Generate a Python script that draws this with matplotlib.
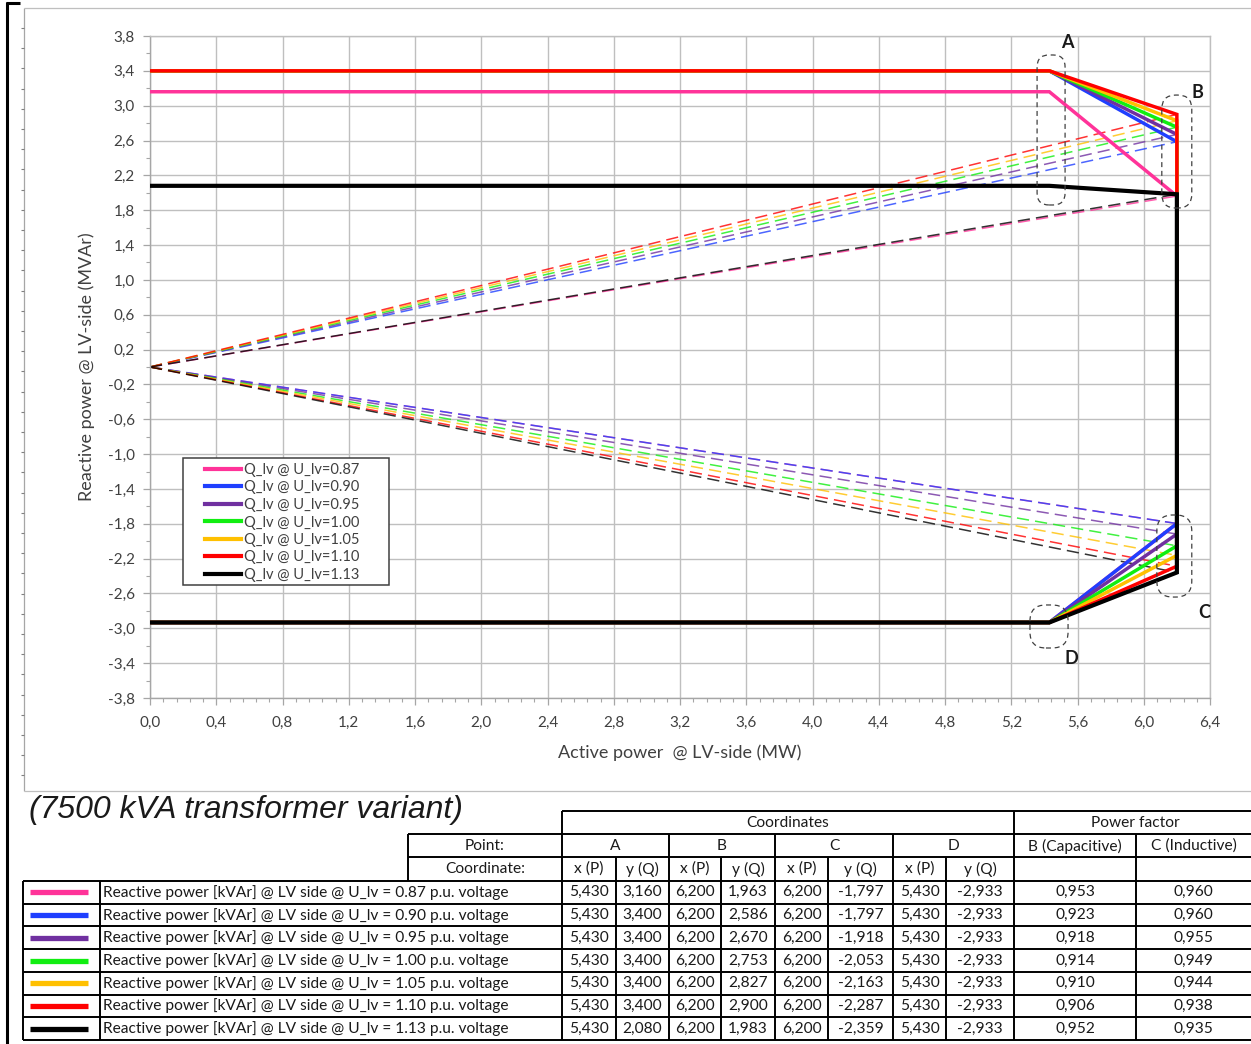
import numpy as np
import matplotlib
matplotlib.use("Agg")
import matplotlib.pyplot as plt
from matplotlib.patches import FancyBboxPatch, Rectangle
from matplotlib.ticker import FixedLocator, FuncFormatter

# ---------------- data ----------------
voltages = ["0.87", "0.90", "0.95", "1.00", "1.05", "1.10", "1.13"]
colors = ["#FF3399", "#1F3FFF", "#7030A0", "#11EE11", "#FFC000", "#FF0000", "#000000"]
A_x = [5.430, 5.430, 5.430, 5.430, 5.430, 5.430, 5.430]
A_y = [3.160, 3.400, 3.400, 3.400, 3.400, 3.400, 2.080]
B_x = [6.200, 6.200, 6.200, 6.200, 6.200, 6.200, 6.200]
B_y = [1.963, 2.586, 2.670, 2.753, 2.827, 2.900, 1.983]
C_x = [6.200, 6.200, 6.200, 6.200, 6.200, 6.200, 6.200]
C_y = [-1.797, -1.797, -1.918, -2.053, -2.163, -2.287, -2.359]
D_x = [5.430, 5.430, 5.430, 5.430, 5.430, 5.430, 5.430]
D_y = [-2.933, -2.933, -2.933, -2.933, -2.933, -2.933, -2.933]
pf_B = [0.953, 0.923, 0.918, 0.914, 0.910, 0.906, 0.952]
pf_C = [0.960, 0.960, 0.955, 0.949, 0.944, 0.938, 0.935]
origin = (0.0, 0.0)

x_ticks = np.round(np.arange(0.0, 6.41, 0.4), 2)
y_ticks = np.round(np.arange(-3.8, 3.81, 0.4), 2)

W, H = 1251, 1044
CAL = ["Lato", "DejaVu Sans"]
TXT = "#404040"

fig = plt.figure(figsize=(W / 100, H / 100), dpi=100)

# ---------------- overlay (page frame + table) ----------------
ov = fig.add_axes([0, 0, 1, 1])
ov.set_xlim(0, W)
ov.set_ylim(H, 0)
ov.axis("off")

def hl(y, x0, x1, **kw):
    ov.plot([x0, x1], [y, y], solid_capstyle="butt", **kw)

def vl(x, y0, y1, **kw):
    ov.plot([x, x], [y0, y1], solid_capstyle="butt", **kw)

# page frame
vl(6.5, 2, H, color="black", lw=2.2)
hl(3, 5.5, 20, color="black", lw=2.2)
vl(23.5, 8, 791, color="#A6A6A6", lw=0.9)
hl(8, 23.5, W, color="#BFBFBF", lw=0.9)
hl(791, 23.5, W, color="#BFBFBF", lw=0.9)
for yy in np.arange(28, 790, 20.2):
    hl(yy, 21, 23.5, color="#808080", lw=0.8)

# title of table
ov.text(29, 810, "(7500 kVA transformer variant)", fontsize=23, style="italic",
        family=["Liberation Sans", "DejaVu Sans"], color="#1A1A1A", va="center", ha="left")

# table geometry
n = len(voltages)
row_h = (1040 - 881) / n
rows = [881 + i * row_h for i in range(n + 1)]
cx = [562, 616, 669, 721, 775, 828, 893, 946, 1014]
TL = dict(color="black", lw=1.4)

hl(811, 562, W, **TL)
hl(834, 408, W, **TL)
hl(857, 408, W, **TL)
for yy in rows:
    hl(yy, 23, W, **TL)
vl(23, 881, 1040, **TL)
vl(100, 881, 1040, **TL)
vl(408, 834, 881, **TL)
vl(562, 811, 1040, **TL)
for x in [669, 775, 893]:
    vl(x, 834, 1040, **TL)
for x in [616, 721, 828, 946]:
    vl(x, 857, 1040, **TL)
vl(1014, 811, 1040, **TL)
vl(1136, 834, 1040, **TL)

tf = dict(fontsize=11.2, family=CAL, color="#1A1A1A", va="center")
ov.text((562 + 1014) / 2, 823, "Coordinates", ha="center", **tf)
ov.text(1135, 823, "Power factor", ha="center", **tf)
ov.text(485, 846, "Point:", ha="center", **tf)
for i, lab in enumerate(["A", "B", "C", "D"]):
    ov.text((cx[2 * i] + cx[2 * i + 2]) / 2, 846, lab, ha="center", **tf)
ov.text(1075, 846, "B (Capacitive)", ha="center", **tf)
ov.text(1193.5, 846, "C (Inductive)", ha="center", **tf)
ov.text(485, 869, "Coordinate:", ha="center", **tf)
for i in range(8):
    ov.text((cx[i] + cx[i + 1]) / 2, 869, "x (P)" if i % 2 == 0 else "y (Q)", ha="center", **tf)

def fmt3(v):
    return f"{v:.3f}".replace(".", ",")

for i in range(n):
    yc = (rows[i] + rows[i + 1]) / 2
    hl(yc, 30, 88, color=colors[i], lw=3.8)
    ov.text(103, yc, f"Reactive power [kVAr] @ LV side @ U_lv = {voltages[i]} p.u. voltage",
            ha="left", **tf)
    vals = [A_x[i], A_y[i], B_x[i], B_y[i], C_x[i], C_y[i], D_x[i], D_y[i]]
    for j, v in enumerate(vals):
        ov.text((cx[j] + cx[j + 1]) / 2, yc, fmt3(v), ha="center", **tf)
    ov.text(1075, yc, fmt3(pf_B[i]), ha="center", **tf)
    ov.text(1193.5, yc, fmt3(pf_C[i]), ha="center", **tf)

# ---------------- chart ----------------
ax = fig.add_axes([150 / W, 1 - 698 / H, 1060 / W, 662 / H])
ax.set_xlim(0, 6.4)
ax.set_ylim(-3.8, 3.8)

# dashed power-factor lines
for i in range(n):
    for (px, py) in [(B_x[i], B_y[i]), (C_x[i], C_y[i])]:
        ax.plot([origin[0], px], [origin[1], py], color=colors[i], lw=1.1,
                dashes=(8, 4), alpha=0.8, zorder=2)

# solid capability curves
handles = []
for i in range(n):
    xs = [origin[0], A_x[i], B_x[i], C_x[i], D_x[i], origin[0]]
    ys = [A_y[i], A_y[i], B_y[i], C_y[i], D_y[i], D_y[i]]
    lw = 3.0 if i == n - 1 else 2.5
    ln, = ax.plot(xs, ys, color=colors[i], lw=lw, solid_joinstyle="miter", zorder=3,
                  label=f"Q_lv @ U_lv={voltages[i]}")
    handles.append(ln)

# grid / ticks
ax.xaxis.set_major_locator(FixedLocator(x_ticks))
ax.yaxis.set_major_locator(FixedLocator(y_ticks))
ax.xaxis.set_minor_locator(FixedLocator(np.arange(0, 6.41, 0.08)))
ax.yaxis.set_minor_locator(FixedLocator(np.arange(-3.6, 3.61, 0.4)))
fmt = FuncFormatter(lambda v, p: f"{v:.1f}".replace(".", ","))
ax.xaxis.set_major_formatter(fmt)
ax.yaxis.set_major_formatter(fmt)
ax.grid(True, which="major", color="#BFBFBF", lw=1.0, zorder=0)
ax.set_axisbelow(True)
for s in ax.spines.values():
    s.set_color("#BFBFBF")
    s.set_linewidth(1.0)
ax.spines["left"].set_color("#A6A6A6")
ax.spines["bottom"].set_color("#A6A6A6")
ax.tick_params(which="major", direction="out", length=5, width=0.9, color="#A6A6A6",
               labelsize=11, labelcolor=TXT)
ax.tick_params(axis="x", which="major", pad=8)
ax.tick_params(axis="y", which="major", pad=6)
ax.tick_params(which="minor", direction="out", length=3, width=0.8, color="#A6A6A6")
for lab in ax.get_xticklabels() + ax.get_yticklabels():
    lab.set_family(CAL)
ax.set_xlabel("Active power  @ LV-side (MW)", fontsize=13, family=CAL, color=TXT, labelpad=10)
ax.set_ylabel("Reactive power @ LV-side (MVAr)", fontsize=13, family=CAL, color=TXT, labelpad=9)

# legend
ax.add_patch(Rectangle((33 / 1060, (698 - 585) / 662), 206 / 1060, 127 / 662,
                       transform=ax.transAxes, facecolor="white", edgecolor="#404040",
                       lw=1.1, zorder=5))
leg = ax.legend(handles=handles, loc="upper left",
                bbox_to_anchor=(55 / 1060, (698 - 463) / 662), frameon=False,
                prop={"family": CAL, "size": 10.5}, handlelength=2.5, handletextpad=0.15,
                labelspacing=0.24, borderpad=0, borderaxespad=0)
leg.set_zorder(6)
for t in leg.get_texts():
    t.set_color(TXT)
for lh in leg.get_lines():
    lh.set_linewidth(3.0)

# dashed marker boxes around A, B, C, D
xpp = 6.4 / 1060.0
ypp = 7.6 / 662.0
asp = ypp / xpp
boxes = {"A": (5.356, 1.860, 5.525, 3.582, 12),
         "B": (6.109, 1.825, 6.290, 3.122, 14),
         "C": (6.079, -2.641, 6.290, -1.699, 16),
         "D": (5.313, -3.226, 5.543, -2.732, 16)}
for k, (x0, y0, x1, y1, r) in boxes.items():
    bp = FancyBboxPatch((x0, y0), x1 - x0, y1 - y0,
                        boxstyle=f"round,pad=0,rounding_size={r * xpp}",
                        mutation_aspect=asp, transform=ax.transData, fill=False,
                        edgecolor="#404040", lw=0.9, linestyle=(0, (4, 3)), zorder=4,
                        clip_on=False)
    ax.add_patch(bp)
labels_pos = {"A": (5.536, 3.72), "B": (6.322, 3.157), "C": (6.363, -2.824), "D": (5.561, -3.352)}
for k, (x, y) in labels_pos.items():
    ax.text(x, y, k, fontsize=13, fontweight="bold", family=CAL, color="#1A1A1A",
            ha="center", va="center", clip_on=False, zorder=6)

fig.savefig("out.png", dpi=100)
